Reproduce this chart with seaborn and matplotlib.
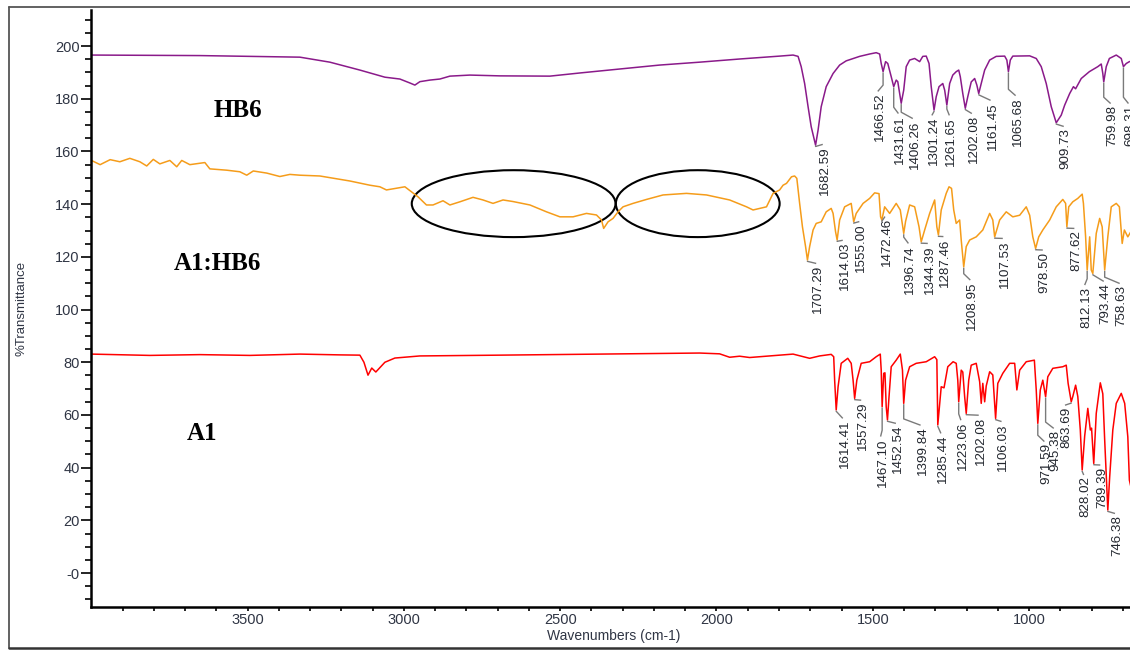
import numpy as np
import pandas as pd
import matplotlib.pyplot as plt
import seaborn as sns
from matplotlib.patches import Ellipse
from matplotlib.lines import Line2D

# ---- spectra (wavenumber cm-1, %T with stacking offsets) ----
hb6_wn = [4000, 3653, 3333, 3237, 3141, 3061, 3013, 2981, 2965, 2949, 2917, 2885, 2853, 2789, 2693, 2533,
          2437, 2310, 2182, 2054, 1926, 1798, 1755, 1739, 1729, 1718, 1707, 1697, 1683, 1675, 1665, 1649,
          1627, 1606, 1585, 1542, 1510, 1489, 1478, 1473, 1467, 1459, 1452, 1441, 1433, 1425, 1420, 1409,
          1401, 1393, 1382, 1366, 1350, 1340, 1329, 1320, 1313, 1304, 1297, 1288, 1276, 1270, 1263, 1254,
          1244, 1233, 1225, 1220, 1212, 1204, 1196, 1185, 1174, 1167, 1161, 1153, 1142, 1126, 1105, 1078,
          1071, 1066, 1060, 1052, 998, 977, 961, 945, 929, 913, 897, 886, 870, 858, 851, 833, 807, 780,
          769, 764, 761, 753, 743, 721, 705, 698, 689, 679, 660]
hb6_T = [196.6, 196.4, 195.8, 193.9, 190.9, 188.2, 187.5, 186.0, 185.2, 186.5, 187.1, 187.5, 188.6, 189.0,
         188.7, 188.6, 189.8, 191.3, 192.8, 193.9, 195.1, 196.2, 196.6, 196.1, 192.2, 185.8, 177.0, 169.4,
         162.4, 168.1, 177.0, 184.6, 189.6, 192.8, 194.4, 196.1, 197.0, 197.5, 197.0, 193.4, 190.3, 194.1,
         193.4, 188.4, 184.6, 187.1, 186.5, 178.3, 183.3, 192.2, 194.7, 195.3, 194.1, 196.1, 196.2, 193.4,
         184.6, 175.7, 180.8, 184.6, 185.8, 183.3, 177.6, 185.8, 189.0, 190.3, 190.9, 188.4, 182.0, 176.4,
         180.8, 186.4, 187.7, 185.2, 182.0, 185.8, 190.9, 194.7, 196.1, 196.2, 194.7, 190.3, 194.7, 196.2,
         196.3, 195.3, 192.2, 185.8, 177.0, 170.9, 173.8, 177.6, 182.0, 184.6, 183.8, 187.7, 190.3, 192.2,
         193.2, 189.6, 186.4, 192.2, 195.3, 196.6, 195.3, 192.2, 193.4, 194.1, 194.5]

mix_wn = [4000, 3972, 3940, 3909, 3877, 3845, 3823, 3802, 3781, 3749, 3727, 3711, 3685, 3637, 3621, 3567,
          3525, 3503, 3482, 3439, 3397, 3365, 3333, 3269, 3173, 3109, 3077, 3056, 2997, 2976, 2955, 2928,
          2907, 2875, 2853, 2821, 2779, 2747, 2715, 2683, 2651, 2597, 2544, 2501, 2459, 2416, 2384, 2368,
          2361, 2347, 2331, 2315, 2299, 2267, 2224, 2171, 2096, 2032, 1958, 1904, 1883, 1840, 1819, 1798,
          1787, 1776, 1760, 1750, 1743, 1734, 1725, 1715, 1709, 1702, 1691, 1681, 1665, 1649, 1633, 1627,
          1619, 1614, 1606, 1590, 1569, 1561, 1553, 1531, 1510, 1494, 1480, 1475, 1471, 1462, 1446, 1425,
          1412, 1401, 1395, 1382, 1366, 1352, 1345, 1334, 1318, 1302, 1295, 1290, 1281, 1265, 1256, 1248,
          1241, 1233, 1222, 1217, 1209, 1201, 1190, 1169, 1148, 1126, 1116, 1110, 1094, 1073, 1052, 1030,
          1009, 998, 988, 979, 969, 956, 934, 913, 892, 883, 879, 873, 860, 844, 830, 826, 819, 814, 806,
          801, 796, 785, 774, 766, 758, 748, 737, 721, 711, 702, 695, 684, 672]
mix_T = [156.6, 155.0, 156.9, 156.1, 157.4, 156.1, 154.5, 157.0, 155.3, 156.6, 154.2, 156.6, 155.0, 155.8,
         153.4, 152.9, 152.3, 151.0, 152.6, 151.8, 150.5, 151.3, 151.0, 150.7, 148.8, 147.2, 146.6, 145.4,
         146.6, 144.7, 142.8, 139.7, 139.7, 141.3, 139.7, 140.9, 142.6, 141.6, 140.3, 141.6, 141.0, 139.7,
         137.1, 135.2, 135.2, 136.5, 135.9, 134.0, 130.8, 133.3, 134.6, 137.1, 139.0, 140.3, 141.8, 143.5,
         144.1, 143.5, 141.6, 139.0, 137.8, 139.0, 144.1, 145.4, 147.2, 147.9, 150.4, 150.7, 149.8, 140.3,
         131.4, 123.9, 118.8, 123.9, 130.2, 132.7, 133.3, 137.1, 138.4, 136.5, 129.5, 126.4, 134.0, 139.0,
         140.3, 133.3, 136.5, 140.3, 142.2, 144.3, 144.0, 135.2, 134.0, 139.0, 136.5, 140.3, 137.8, 128.9,
         133.5, 139.7, 139.0, 131.4, 125.7, 130.2, 136.5, 141.6, 131.4, 128.3, 137.8, 144.1, 146.6, 146.0,
         137.8, 132.7, 134.0, 126.4, 116.2, 123.9, 126.4, 127.6, 130.2, 136.5, 134.0, 127.6, 134.0, 137.1,
         135.2, 135.8, 139.0, 135.8, 127.6, 123.2, 127.6, 130.2, 134.0, 139.0, 141.8, 140.3, 131.4, 139.0,
         140.9, 142.2, 143.8, 140.3, 127.6, 115.0, 127.6, 115.0, 113.7, 128.9, 134.6, 131.4, 115.0, 127.6,
         139.0, 140.3, 139.0, 125.1, 130.2, 127.6, 130.0]

a1_wn = [4000, 3813, 3653, 3493, 3333, 3205, 3141, 3128, 3115, 3103, 3090, 3061, 3029, 2949, 2693, 2373,
         2054, 1990, 1958, 1926, 1894, 1798, 1755, 1702, 1670, 1633, 1625, 1622, 1617, 1611, 1601, 1580,
         1569, 1563, 1558, 1551, 1537, 1510, 1489, 1476, 1473, 1470, 1465, 1461, 1457, 1453, 1448, 1441,
         1425, 1412, 1405, 1401, 1395, 1382, 1361, 1329, 1302, 1295, 1292, 1281, 1272, 1260, 1243, 1233,
         1228, 1225, 1217, 1212, 1206, 1201, 1193, 1185, 1169, 1158, 1153, 1148, 1142, 1137, 1126, 1116,
         1107, 1100, 1084, 1062, 1046, 1039, 1030, 1009, 983, 977, 972, 964, 956, 947, 940, 924, 892, 881,
         875, 865, 860, 851, 844, 836, 830, 822, 812, 804, 800, 793, 785, 772, 764, 758, 748, 742, 732, 721,
         705, 694, 684, 679, 669]
a1_T = [83.1, 82.6, 82.9, 82.6, 83.1, 82.8, 82.7, 80.0, 75.1, 77.8, 76.3, 80.0, 81.6, 82.4, 82.7, 83.1,
        83.5, 83.2, 81.9, 82.3, 81.8, 82.7, 83.1, 81.5, 82.4, 83.0, 82.1, 73.2, 61.9, 70.7, 79.6, 81.5,
        79.6, 73.2, 66.3, 73.2, 79.6, 80.2, 82.1, 83.1, 77.0, 63.1, 75.8, 76.0, 63.1, 58.1, 66.9, 78.3,
        80.8, 83.1, 77.0, 64.4, 73.2, 78.3, 79.6, 80.2, 82.1, 81.0, 56.2, 70.7, 70.3, 78.3, 80.2, 79.6,
        73.2, 65.0, 77.0, 76.3, 66.9, 60.6, 73.2, 78.9, 79.6, 72.6, 64.4, 72.0, 65.0, 71.0, 76.4, 75.2,
        58.7, 72.0, 75.8, 79.6, 79.6, 69.5, 77.0, 80.2, 80.8, 69.5, 56.8, 69.5, 73.2, 66.9, 74.5, 77.7,
        78.3, 78.9, 72.0, 65.0, 67.0, 71.3, 67.0, 54.3, 39.1, 52.0, 62.5, 54.3, 55.0, 41.6, 60.6, 72.2,
        68.0, 50.5, 23.9, 36.5, 54.3, 64.4, 68.2, 64.4, 51.7, 35.3, 30.0]

# ---- peak labels: text, peak position, label position (wn), label top (%T) ----
hb6_labels = ["1682.59", "1466.52", "1431.61", "1406.26", "1301.24", "1261.65", "1202.08", "1161.45",
              "1065.68", "909.73", "759.98", "698.31"]
hb6_peak = [1683, 1467, 1433, 1409, 1304, 1263, 1204, 1161, 1066, 913, 761, 698]
hb6_lab_x = [1654, 1478, 1412, 1366, 1305, 1249, 1177, 1117, 1037, 883, 733, 676]
hb6_lab_top = [162.1, 182.2, 173.8, 171.9, 173.1, 173.1, 173.8, 178.8, 180.6, 168.9, 177.6, 177.6]

mix_labels = ["1707.29", "1614.03", "1555.00", "1472.46", "1396.74", "1344.39", "1287.46", "1208.95",
              "1107.53", "978.50", "877.62", "812.13", "793.44", "758.63"]
mix_peak = [1709, 1614, 1561, 1471, 1401, 1345, 1290, 1209, 1110, 979, 879, 814, 796, 758]
mix_lab_x = [1675, 1590, 1537, 1455, 1380, 1318, 1268, 1182, 1078, 950, 849, 816, 755, 704]
mix_lab_top = [116.9, 125.7, 132.8, 134.7, 124.5, 124.5, 127.1, 110.6, 126.4, 122.0, 130.2, 108.7, 110.1, 109.3]

a1_labels = ["1614.41", "1557.29", "1467.10", "1452.54", "1399.84", "1285.44", "1223.06", "1202.08",
             "1106.03", "971.59", "945.38", "863.69", "828.02", "789.39", "746.38"]
a1_peak = [1617, 1558, 1470, 1453, 1401, 1292, 1225, 1201, 1107, 972, 947, 865, 830, 793, 748]
a1_lab_x = [1590, 1531, 1469, 1420, 1341, 1276, 1212, 1155, 1082, 945, 915, 879, 819, 766, 719]
a1_lab_top = [58.1, 65.0, 51.2, 56.2, 55.5, 52.4, 57.4, 59.3, 56.9, 49.3, 54.3, 63.1, 36.6, 40.4, 22.0]

colors = {"HB6": "#8a1a8a", "A1:HB6": "#f59c1a", "A1": "#ff0000"}

df = pd.concat([
    pd.DataFrame({"wn": hb6_wn, "T": hb6_T, "sample": "HB6"}),
    pd.DataFrame({"wn": mix_wn, "T": mix_T, "sample": "A1:HB6"}),
    pd.DataFrame({"wn": a1_wn, "T": a1_T, "sample": "A1"}),
], ignore_index=True)

sns.set_theme(style="ticks")
plt.rcParams["font.family"] = ["Liberation Sans", "DejaVu Sans"]

fig = plt.figure(figsize=(11.3, 6.53), dpi=100)
ax = fig.add_axes([91.4 / 1130, 46.5 / 653, 1038.6 / 1130, 596.5 / 653])

sns.lineplot(data=df, x="wn", y="T", hue="sample", palette=colors, sort=False,
             estimator=None, legend=False, linewidth=1.1, ax=ax)

ax.set_xlim(4000, 677)
ax.set_ylim(-12.7, 213.7)

# peak labels with grey leader ticks
label_sets = [
    (hb6_wn, hb6_T, hb6_labels, hb6_peak, hb6_lab_x, hb6_lab_top),
    (mix_wn, mix_T, mix_labels, mix_peak, mix_lab_x, mix_lab_top),
    (a1_wn, a1_T, a1_labels, a1_peak, a1_lab_x, a1_lab_top),
]
for wn, T, labs, peaks, lx, ltop in label_sets:
    wn_a = np.array(wn)[::-1]
    T_a = np.array(T)[::-1]
    for s, pk, x, top in zip(labs, peaks, lx, ltop):
        pt = np.interp(pk, wn_a, T_a)
        knee = top + 3 if pt - 1 > top + 3 else pt - 0.5
        ax.plot([pk, pk, x + 6], [pt - 0.3, knee, top + 0.6], color="#7a7a7a", lw=1.0,
                solid_capstyle="butt")
        ax.text(x, top, s, rotation=90, ha="center", va="top", fontsize=9.6,
                color="#22262e", clip_on=True)

# sample names
ax.text(3531, 175.7, "HB6", ha="center", va="center", fontsize=18, fontweight="bold",
        family="Liberation Serif", color="black")
ax.text(3597, 117.6, "A1:HB6", ha="center", va="center", fontsize=18, fontweight="bold",
        family="Liberation Serif", color="black")
ax.text(3645, 52.9, "A1", ha="center", va="center", fontsize=18, fontweight="bold",
        family="Liberation Serif", color="black")

# circled regions
ax.add_patch(Ellipse((2649, 140.2), 652, 25.4, fill=False, ec="black", lw=1.5))
ax.add_patch(Ellipse((2060, 140.2), 524, 25.4, fill=False, ec="black", lw=1.5))

# axes styling
tick_color = "#2f3544"
ax.set_xticks([3500, 3000, 2500, 2000, 1500, 1000])
ax.set_xticks(np.arange(700, 4000, 100), minor=True)
ax.set_yticks(np.arange(0, 201, 20))
ax.set_yticklabels(["-0"] + [str(v) for v in range(20, 201, 20)])
ax.set_yticks(np.arange(-10, 211, 5), minor=True)
ax.tick_params(axis="x", which="both", length=3, width=1.2, colors="black",
               labelcolor=tick_color, labelsize=10.5, pad=2)
ax.tick_params(axis="y", which="major", length=7, width=1.2, colors="black",
               labelcolor=tick_color, labelsize=10.5, pad=1.5)
ax.tick_params(axis="y", which="minor", length=4, width=1.2, colors="black")
for side in ["top", "right"]:
    ax.spines[side].set_visible(False)
for side in ["left", "bottom"]:
    ax.spines[side].set_linewidth(1.8)
    ax.spines[side].set_color("black")

ax.set_xlabel("Wavenumbers (cm-1)", fontsize=10, color=tick_color)
ax.set_ylabel("%Transmittance", fontsize=9.5, color=tick_color)
ax.xaxis.set_label_coords(0.503, -0.038)
ax.yaxis.set_label_coords(-0.062, 0.5)

# outer frame of the screenshot
frame = "#555555"
fig.add_artist(Line2D([0.008, 1.0], [0.9893, 0.9893], transform=fig.transFigure, color=frame, lw=1.3))
fig.add_artist(Line2D([0.008, 0.008], [0.0077, 0.9893], transform=fig.transFigure, color=frame, lw=1.3))
fig.add_artist(Line2D([0.008, 1.0], [0.0077, 0.0077], transform=fig.transFigure, color="#333333", lw=1.8))

fig.savefig("out.png", dpi=100)
